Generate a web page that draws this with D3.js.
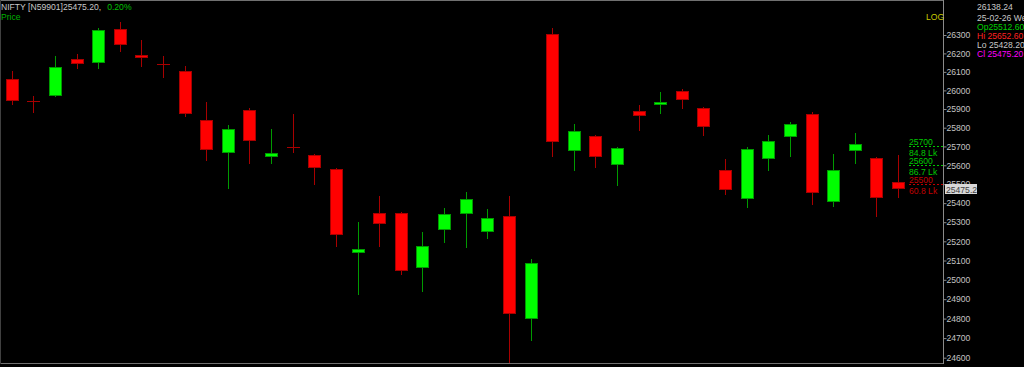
<!DOCTYPE html>
<html>
<head>
<meta charset="utf-8">
<script src="https://cdn.jsdelivr.net/npm/d3@7"></script>
<style>
body { margin: 0; background: #000; overflow: hidden; }
svg { display: block; font-family: "Liberation Sans", Arial, sans-serif; }
</style>
</head>
<body>
<script>
// candele giornaliere NIFTY (l'ultima è il 25-02-26)
var openP  = [26061, 25942, 25968, 26171, 26150, 26333, 26190, 26144, 26106, 25843,
              25667, 25896, 25646, 25696, 25655, 25581, 25140, 25347, 25347, 25063,
              25260, 25345, 25249, 25334, 24798, 26307, 25676, 25756, 25603, 25889,
              25920, 25997, 25907, 25574, 25422, 25635, 25751, 25875, 25405, 25678,
              25640, 25512.6];
var highP  = [26106, 25972, 26188, 26198, 26338, 26372, 26274, 26188, 26133, 25939,
              25813, 25903, 25793, 25875, 25660, 25586, 25303, 25438, 25351, 25248,
              25375, 25459, 25370, 25440, 25110, 26340, 25820, 25760, 25697, 25922,
              25992, 26009, 25909, 25632, 25696, 25763, 25829, 25886, 25662, 25772,
              25642, 25652.6];
var lowP   = [25920, 25880, 25966, 26114, 26117, 26208, 26126, 26069, 25859, 25623,
              25475, 25605, 25605, 25664, 25496, 25173, 24922, 25171, 25027, 24936,
              25192, 25164, 25214, 24575, 24684, 25643, 25570, 25586, 25491, 25783,
              25872, 25900, 25754, 25445, 25375, 25570, 25644, 25389, 25382, 25609,
              25329, 25428.2];
var closeP = [25941, 25937, 26128, 26144, 26326, 26246, 26177, 26136, 25875, 25681,
              25792, 25731, 25667, 25690, 25584, 25232, 25159, 25291, 25048, 25176,
              25342, 25421, 25321, 24826, 25089, 25725, 25783, 25643, 25694, 25864,
              25936, 25950, 25804, 25471, 25685, 25728, 25820, 25454, 25574, 25713,
              25426, 25475.2];

// etichette dell'asse dei prezzi
var priceTicks = [24600, 24700, 24800, 24900, 25000, 25100, 25200, 25300, 25400,
                  25500, 25600, 25700, 25800, 25900, 26000, 26100, 26200, 26300];

// livelli con volume a destra
var levels = [25700, 25600, 25500];
var levelVolumes = ["84.8 Lk", "86.7 Lk", "60.8 Lk"];
var levelUp = [true, true, false];

// riquadro info in alto a destra
var infoLines = ["26138.24", "25-02-26 We", "Op25512.60", "Hi 25652.60", "Lo 25428.20", "Cl 25475.20"];
var lastPrice = 25475.2;

var W = 1024, H = 367;
var axisX = 943.5;

var svg = d3.select("body").append("svg")
	.attr("width", W)
	.attr("height", H);

svg.append("rect").attr("width", W).attr("height", H).attr("fill", "#000");

var y = d3.scaleLog().domain([24600, 26300]).range([357.7, 35]);
var x = d3.scalePoint().domain(d3.range(openP.length)).range([11.7, 898]);

// bordi
svg.append("line").attr("x1", 0).attr("x2", axisX).attr("y1", 0.5).attr("y2", 0.5)
	.attr("stroke", "#707070");
svg.append("line").attr("x1", 0).attr("x2", axisX).attr("y1", 363.5).attr("y2", 363.5)
	.attr("stroke", "#707070");
svg.append("line").attr("x1", 0.5).attr("x2", 0.5).attr("y1", 0).attr("y2", 364)
	.attr("stroke", "#404040");

// asse destro
var axis = d3.axisRight(y)
	.tickValues(priceTicks)
	.tickFormat(d3.format("d"))
	.tickSize(3)
	.tickPadding(0);

var gAxis = svg.append("g")
	.attr("transform", "translate(" + axisX + ",0)")
	.call(axis);
gAxis.select(".domain").attr("stroke", "#8a8a8a").attr("d", "M0,0V364");
gAxis.selectAll(".tick line").attr("stroke", "#8a8a8a");
gAxis.selectAll(".tick text")
	.attr("fill", "#c4c4c4")
	.attr("font-size", "8.6px")
	.attr("font-family", "Liberation Sans, Arial, sans-serif");

// candele
var candles = svg.append("g").selectAll("g")
	.data(openP.map(function(o, i) {
		return { i: i, o: o, h: highP[i], l: lowP[i], c: closeP[i] };
	}))
	.enter()
	.append("g");

function col(d) { return d.c >= d.o ? "#00ff00" : "#ff0000"; }
function dark(d) { return d.c >= d.o ? "#009a00" : "#a80000"; }
function cx(d) { return Math.round(x(d.i)) + 0.5; }

candles.append("line")
	.attr("x1", cx).attr("x2", cx)
	.attr("y1", function(d) { return Math.round(y(d.h)); })
	.attr("y2", function(d) { return Math.round(y(d.l)); })
	.attr("stroke", dark);

candles.append("rect")
	.attr("x", function(d) { return cx(d) - 6; })
	.attr("width", 12)
	.attr("y", function(d) { return Math.round(y(Math.max(d.o, d.c))) + 0.5; })
	.attr("height", function(d) {
		return Math.max(0.01, Math.round(y(Math.min(d.o, d.c))) - Math.round(y(Math.max(d.o, d.c))) - 1);
	})
	.attr("fill", col)
	.attr("stroke", dark);

// livelli con volume
levels.forEach(function(lv, k) {
	var c = levelUp[k] ? "#00c800" : "#c00000";
	var yy = Math.round(y(lv)) + 0.5;
	svg.append("line")
		.attr("x1", 909).attr("x2", axisX).attr("y1", yy).attr("y2", yy)
		.attr("stroke", c).attr("stroke-dasharray", "2,2");
	svg.append("text").attr("x", 909).attr("y", yy - 2)
		.attr("fill", c).attr("font-size", "8.6px").text(lv);
	svg.append("text").attr("x", 909).attr("y", yy + 9)
		.attr("fill", c).attr("font-size", "8.6px").text(levelVolumes[k]);
});

// riquadro ultimo prezzo
var yl = y(lastPrice);
svg.append("rect").attr("x", 945).attr("y", Math.round(yl) - 5)
	.attr("width", 32).attr("height", 10).attr("fill", "#d8d8d8");
svg.append("text").attr("x", 946).attr("y", Math.round(yl) + 3.5)
	.attr("fill", "#404040").attr("font-size", "8.6px").text(lastPrice.toFixed(1));

// intestazione
var head = svg.append("text").attr("x", 1).attr("y", 10).attr("font-size", "8.6px");
head.append("tspan").attr("fill", "#c8c8c8").text("NIFTY [N59901]25475.20,");
head.append("tspan").attr("fill", "#00c000").attr("dx", 6).text("0.20%");
svg.append("text").attr("x", 1).attr("y", 20).attr("font-size", "8.6px")
	.attr("fill", "#00b000").text("Price");
svg.append("text").attr("x", 926).attr("y", 19.5).attr("font-size", "8.6px")
	.attr("fill", "#c8c800").text("LOG");

// info
var infoColors = ["#c8c8c8", "#c8c8c8", "#00d000", "#ff2020", "#c8c8c8", "#ff00ff"];
var infoY = [10, 20.5, 29.5, 38.5, 48, 57];
infoLines.forEach(function(t, k) {
	svg.append("text").attr("x", 977).attr("y", infoY[k])
		.attr("font-size", "8.6px").attr("fill", infoColors[k]).text(t);
});
</script>
</body>
</html>
